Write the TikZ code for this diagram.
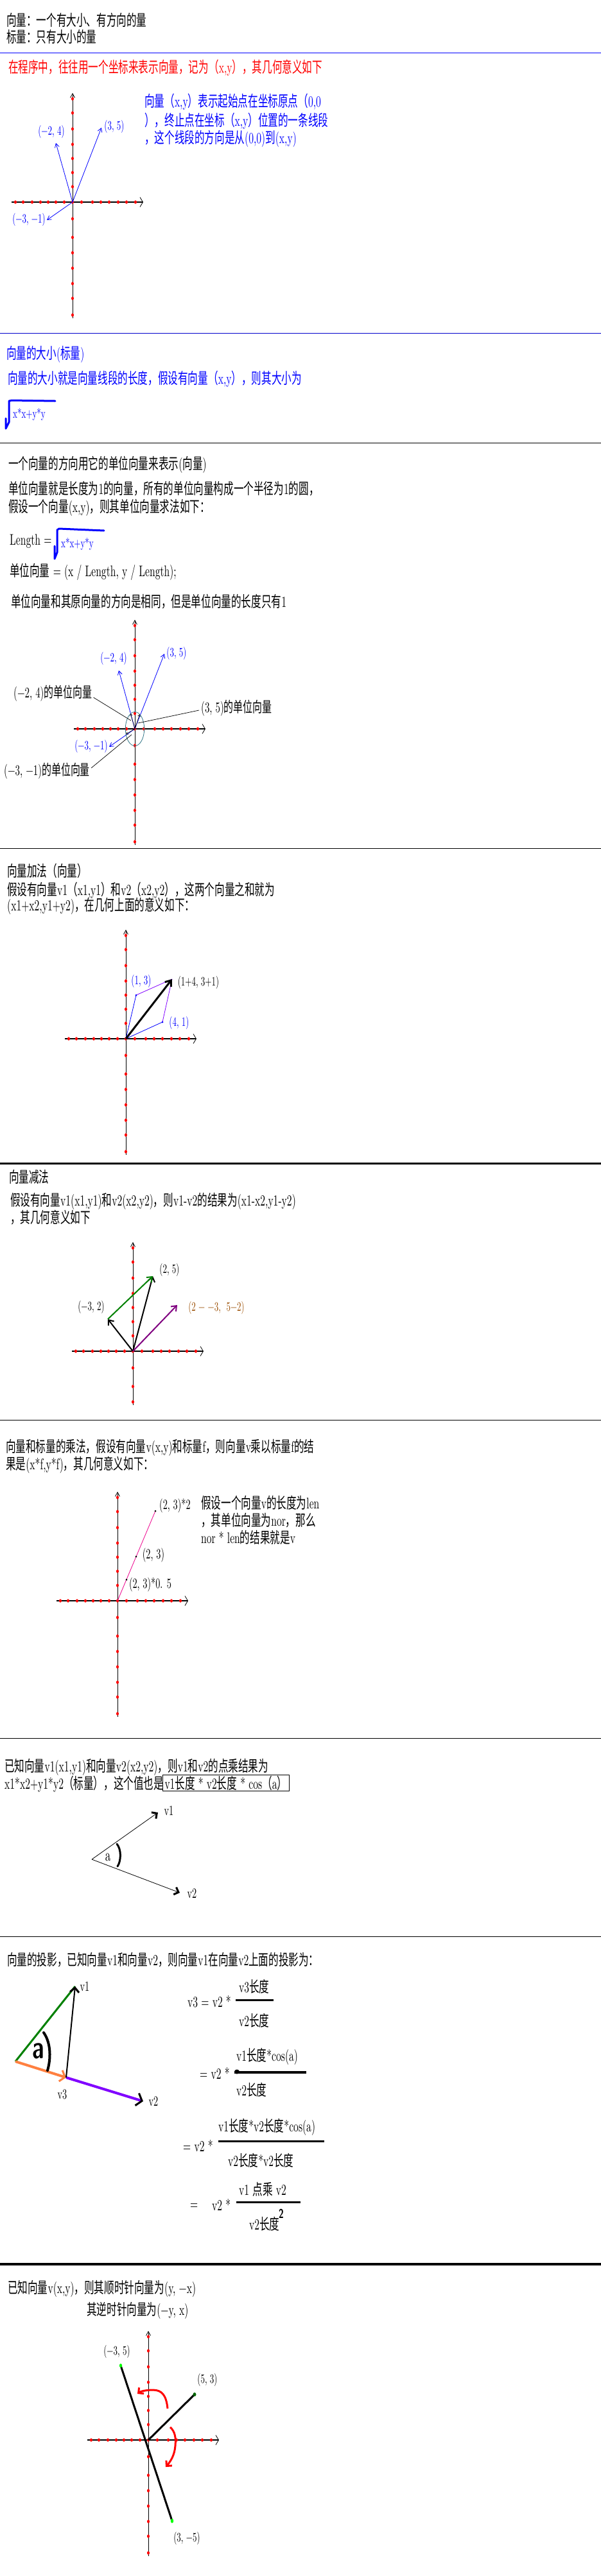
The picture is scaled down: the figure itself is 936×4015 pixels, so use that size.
\documentclass[tikz,border=0pt]{standalone}
\usepackage{fontspec}
\setmainfont{lmroman10-regular}[Extension=.otf, FakeStretch=0.65]
\newfontfamily\cjk{Noto Sans CJK SC}[FakeStretch=0.65]
\newfontfamily\heavyfont{lmsans10-bold}[Extension=.otf, FakeStretch=0.7]
\usetikzlibrary{arrows.meta}

\XeTeXinterchartokenstate=1
\ifdefined\newXeTeXintercharclass
  \newXeTeXintercharclass\cjkclass
\else
  \chardef\cjkclass=10
\fi
\newcommand{\cjkrange}[2]{%
  \count255=#1\relax
  \loop
    \XeTeXcharclass\count255=\cjkclass
  \ifnum\count255<#2\relax
    \advance\count255 by 1
  \repeat}
\cjkrange{"3000}{"303F}
\cjkrange{"4E00}{"9FFF}
\cjkrange{"FF00}{"FFEF}
\XeTeXinterchartoks 0 \cjkclass = {\cjk}
\XeTeXinterchartoks 4095 \cjkclass = {\cjk}
\XeTeXinterchartoks \cjkclass 0 = {\rmfamily}
\XeTeXinterchartoks \cjkclass 4095 = {\rmfamily}

\definecolor{rulebl}{RGB}{0,0,204}
\definecolor{ellteal}{RGB}{51,119,136}
\definecolor{sumviolet}{RGB}{128,0,255}
\definecolor{diffbrown}{RGB}{153,76,0}
\definecolor{diffpurple}{RGB}{128,0,128}
\definecolor{projorange}{RGB}{255,128,64}
\definecolor{darkgreen}{RGB}{0,128,0}

\newcommand{\drawaxes}[3]{%
  \draw[xaxis] (#1-95,#2) -- (#1+110,#2);
  \draw[yaxis] (#1,#2+#3) -- (#1,#2-170);
  \fill[reddot] (#1,#2) ellipse (2 and 2.7);
  \foreach \off in {13,26,38,50,63,77,89} {\fill[reddot] (#1-\off,#2) ellipse (2 and 2.7);}
  \foreach \off in {14,31,44,57,71,84,98} {\fill[reddot] (#1+\off,#2) ellipse (2 and 2.7);}
  \foreach \off in {24,46,68,90,114,139,161} {\fill[reddot] (#1,#2-\off) ellipse (2 and 2.7);}
  \foreach \off in {26,55,79,103,127,150,176} {\ifdim\off pt<#3pt \fill[reddot] (#1,#2+\off) ellipse (2 and 2.7);\fi}
}

\begin{document}
\begin{tikzpicture}[x=1pt, y=-1pt,
    txt/.style={anchor=base west, inner sep=0pt, font=\fontsize{24}{28}\selectfont},
    lbl/.style={inner sep=0pt, font=\fontsize{20}{24}\selectfont},
    cltxt/.style={anchor=base west, inner sep=0pt, font=\fontsize{23}{27}\selectfont},
    sepline/.style={line width=1pt},
    xaxis/.style={line width=1.5pt, -{Straight Barb[length=4.5pt, width=15pt, line width=0.8pt]}},
    yaxis/.style={line width=0.8pt, -{Straight Barb[length=6.5pt, width=7pt, line width=0.8pt]}},
    reddot/.style={fill=red},
    vecb/.style={draw=blue, line width=0.8pt, -{Straight Barb[length=6pt, width=7pt, line width=0.8pt]}},
    unitvec/.style={line width=0.6pt, -{Straight Barb[length=3pt, width=4pt, line width=0.6pt]}},
    leader/.style={line width=0.7pt},
    fatvec/.style={line width=2pt, -{Straight Barb[length=7pt, width=11pt, line width=2pt]}},
    thinvec/.style={line width=0.8pt, -{Straight Barb[length=6pt, width=12pt, line width=3pt]}},
    fracbar/.style={line width=3pt},
    radical/.style={draw=blue, line width=3pt, line join=round, line cap=round},
    redturn/.style={draw=red, line width=3pt, -{Straight Barb[length=6pt, width=12pt, line width=3pt]}}
  ]
  \useasboundingbox (0,0) rectangle (936,4015);

  \node[txt] (def1) at (10,40) {向量：一个有大小、有方向的量};
  \node[txt] (def2) at (10,66) {标量：只有大小的量};
  \draw[sepline, blue] (0,82) -- (936,82);
  \node[txt, red] (coord) at (13,113) {在程序中，往往用一个坐标来表示向量，记为（x,y），其几何意义如下};
  \drawaxes{113}{315}{181}
  \coordinate (o1) at (113,315);
  \coordinate (a35) at (158,199);
  \coordinate (a24) at (87,223);
  \coordinate (a31) at (73,343);
  \draw[vecb] (o1) -- (a35);
  \draw[vecb] (o1) -- (a24);
  \draw[vecb] (o1) -- (a31);
  \node[lbl, blue] (l35) at (178,197) {(3, 5)};
  \node[lbl, blue] (l24) at (80,205) {(−2, 4)};
  \node[lbl, blue] (l31) at (45,342) {(−3, −1)};
  \node[txt, blue] (meaning1) at (225,166) {向量（x,y）表示起始点在坐标原点（0,0};
  \node[txt, blue] (meaning2) at (225,196) {），终止点在坐标（x,y）位置的一条线段};
  \node[txt, blue] (meaning3) at (225,223) {，这个线段的方向是从(0,0)到(x,y)};

  \draw[sepline, rulebl] (0,519) -- (936,519);
  \node[txt, blue] (mag1) at (10,559) {向量的大小(标量)};
  \node[txt, blue] (mag2) at (12,598) {向量的大小就是向量线段的长度，假设有向量（x,y），则其大小为};
  \draw[radical] (9,652) -- (9,668) -- (14,658) -- (14,625) -- (18,624) -- (86,625);
  \node[lbl, blue, anchor=base west] (magsq) at (20,651) {x*x+y*y};

  \draw[sepline] (0,690) -- (936,690);
  \node[txt] (dir1) at (13,731) {一个向量的方向用它的单位向量来表示(向量)};
  \node[txt] (dir2) at (13,770) {单位向量就是长度为1的向量，所有的单位向量构成一个半径为1的圆，};
  \node[txt] (dir3) at (13,798) {假设一个向量(x,y)，则其单位向量求法如下：};
  \node[txt] (len) at (15,849) {Length =};
  \draw[radical] (85,851) -- (85,871) -- (89,861) -- (89,826) -- (92,824) -- (162,827);
  \node[lbl, blue, anchor=base west] (lensq) at (95,853) {x*x+y*y};
  \node[txt] (unit) at (15,898) {单位向量 = (x / Length, y / Length);};
  \node[txt] (same) at (17,946) {单位向量和其原向量的方向是相同，但是单位向量的长度只有1};
  \drawaxes{210}{1136}{181}
  \coordinate (o3) at (210,1136);
  \coordinate (b24) at (185,1045);
  \coordinate (b35) at (256,1019);
  \coordinate (b31) at (170,1164);
  \draw[vecb] (o3) -- (b24);
  \draw[vecb] (o3) -- (b35);
  \draw[vecb] (o3) -- (b31);
  \draw[ellteal, line width=0.8pt] (o3) ellipse (14.7 and 26.5);
  \coordinate (u24) at (203.4,1112.3);
  \coordinate (u35) at (217.6,1113.3);
  \coordinate (u31) at (196.1,1144.4);
  \draw[unitvec] (o3) -- (u24);
  \draw[unitvec] (o3) -- (u35);
  \draw[unitvec] (o3) -- (u31);
  \node[lbl, blue] (m24) at (177,1026) {(−2, 4)};
  \node[lbl, blue] (m35) at (275,1018) {(3, 5)};
  \node[lbl, blue] (m31) at (142,1163) {(−3, −1)};
  \node[cltxt] (c24) at (21,1087) {(−2, 4)的单位向量};
  \node[cltxt] (c35) at (313,1110) {(3, 5)的单位向量};
  \node[cltxt] (c31) at (6,1208) {(−3, −1)的单位向量};
  \coordinate (e24) at (204,1123);
  \coordinate (e35) at (215,1127);
  \coordinate (e31) at (205,1145);
  \draw[leader] (c24.base east) ++(2,0) -- (e24);
  \draw[leader] ([yshift=3pt]c35.base west) ++(-3,0) -- (e35);
  \draw[leader] ([yshift=11pt]c31.base east) ++(2,0) -- (e31);

  \draw[sepline] (0,1322) -- (936,1322);
  \node[txt] (add1) at (11,1366) {向量加法（向量）};
  \node[txt] (add2) at (11,1395) {假设有向量v1（x1,y1）和v2（x2,y2），这两个向量之和就为};
  \node[txt] (add3) at (11,1419) {(x1+x2,y1+y2)，在几何上面的意义如下：};
  \drawaxes{196}{1619}{181}
  \coordinate (o4) at (196,1619);
  \coordinate (p13) at (212,1551);
  \coordinate (p41) at (253,1593);
  \coordinate (psum) at (268,1526);
  \draw[blue, line width=0.8pt] (o4) -- (p13);
  \draw[blue, line width=0.8pt] (o4) -- (p41);
  \draw[sumviolet, line width=0.8pt] (p13) -- (psum);
  \draw[sumviolet, line width=0.8pt] (p41) -- (psum);
  \draw[line width=3pt, -{Straight Barb[length=8pt, width=12pt, line width=3pt]}] (o4) -- (psum);
  \fill[blue] (p13) circle (1.5);
  \fill[blue] (p41) circle (1.5);
  \node[lbl, blue] (n13) at (220,1529) {(1, 3)};
  \node[lbl] (nsum) at (309,1531) {(1+4, 3+1)};
  \node[lbl, blue] (n41) at (279,1594) {(4, 1)};

  \draw[line width=3pt] (0,1813) -- (936,1813);
  \node[txt] (sub1) at (14,1843) {向量减法};
  \node[txt] (sub2) at (16,1879) {假设有向量v1(x1,y1)和v2(x2,y2)，则v1-v2的结果为(x1-x2,y1-y2)};
  \node[txt] (sub3) at (16,1906) {，其几何意义如下};
  \drawaxes{207}{2106}{84}
  \coordinate (o5) at (207,2106);
  \coordinate (q25) at (238,1989);
  \coordinate (qm32) at (168,2056);
  \coordinate (qd) at (276,2034);
  \draw[fatvec] (o5) -- (q25);
  \draw[fatvec] (o5) -- (qm32);
  \draw[fatvec, darkgreen] (qm32) -- (q25);
  \draw[fatvec, diffpurple] (o5) -- (qd);
  \node[lbl] (k25) at (264,1979) {(2, 5)};
  \node[lbl] (km32) at (142,2037) {(−3, 2)};
  \node[lbl, diffbrown] (kd) at (337,2038) {(2 − −3,~~5−2)};

  \draw[sepline] (0,2213) -- (936,2213);
  \node[txt] (mul1) at (9,2263) {向量和标量的乘法，假设有向量v(x,y)和标量f，则向量v乘以标量f的结};
  \node[txt] (mul2) at (9,2290) {果是(x*f,y*f)，其几何意义如下：};
  \drawaxes{183}{2495}{181}
  \coordinate (o6) at (183,2495);
  \coordinate (r2) at (242,2355);
  \coordinate (r1) at (212,2426);
  \coordinate (rh) at (197,2462);
  \draw[magenta, line width=0.8pt] (o6) -- (r2);
  \fill (r2) circle (1.5);
  \fill (r1) circle (1.5);
  \fill (rh) circle (1.5);
  \node[lbl, anchor=west, font=\fontsize{22}{26}\selectfont] (lr2) at (248,2347) {(2, 3)*2};
  \node[lbl, font=\fontsize{22}{26}\selectfont] (lr1) at (239,2424) {(2, 3)};
  \node[lbl, font=\fontsize{22}{26}\selectfont] (lrh) at (234,2470) {(2, 3)*0. 5};
  \node[txt] (nor1) at (313,2351) {假设一个向量v的长度为len};
  \node[txt] (nor2) at (313,2378) {，其单位向量为nor，那么};
  \node[txt] (nor3) at (313,2405) {nor * len的结果就是v};

  \draw[sepline] (0,2709) -- (936,2709);
  \node[txt] (dot1) at (7,2761) {已知向量v1(x1,y1)和向量v2(x2,y2)，则v1和v2的点乘结果为};
  \node[txt] (dot2) at (7,2788) {x1*x2+y1*y2（标量），这个值也是};
  \node[txt, draw, line width=1pt, inner xsep=3pt, inner ysep=1pt] (dotbox) at (253,2788) {v1长度 * v2长度 * cos（a）};
  \coordinate (ang) at (143,2898);
  \coordinate (av1) at (246,2825);
  \coordinate (av2) at (280,2950);
  \draw[thinvec] (ang) -- (av1);
  \draw[thinvec] (ang) -- (av2);
  \draw[line width=3pt, line cap=round] (182,2874) .. controls (189,2882) and (189,2900) .. (183,2909);
  \node[lbl, font=\fontsize{26}{30}\selectfont] (anga) at (168,2895) {a};
  \node[lbl, font=\fontsize{22}{26}\selectfont] (angv1) at (263,2822) {v1};
  \node[lbl, font=\fontsize{22}{26}\selectfont] (angv2) at (299,2951) {v2};

  \draw[sepline] (0,3018) -- (936,3018);
  \node[txt] (proj) at (11,3063) {向量的投影，已知向量v1和向量v2，则向量v1在向量v2上面的投影为：};
  \coordinate (pa) at (24,3213);
  \coordinate (pv1) at (117,3096);
  \coordinate (pv3) at (103,3238);
  \coordinate (pv2) at (223,3275);
  \draw[sumviolet, line width=0.8pt] (pa) -- (pv3);
  \draw[sumviolet, line width=4pt, -{Straight Barb[length=8pt, width=20pt, line width=3pt, color=black]}] (pv3) -- (pv2);
  \draw[darkgreen, line width=3pt] (pa) -- (pv1);
  \draw[projorange, line width=4pt, -{Straight Barb[length=7pt, width=18pt, line width=3pt]}] (pa) -- (pv3);
  \draw[line width=2pt, -{Straight Barb[length=7pt, width=14pt, line width=3pt]}] (pv3) -- (pv1);
  \node[inner sep=0pt, font=\heavyfont\fontsize{50}{50}\selectfont] (pang) at (60,3197) {a};
  \draw[line width=4pt, line cap=round] (68,3168) .. controls (80,3185) and (79,3210) .. (74,3227);
  \node[lbl, font=\fontsize{22}{26}\selectfont] (pl1) at (132,3096) {v1};
  \node[lbl, font=\fontsize{22}{26}\selectfont] (pl3) at (97,3264) {v3};
  \node[lbl, font=\fontsize{22}{26}\selectfont] (pl2) at (239,3275) {v2};

  \node[txt] (f1) at (292,3128) {v3 = v2 *};
  \draw[fracbar] (367,3117) -- (426,3117);
  \node[txt] (f1n) at (372,3105) {v3长度};
  \node[txt] (f1d) at (372,3158) {v2长度};
  \node[txt] (f2) at (311,3240) {= v2 *};
  \draw[fracbar, line width=4pt] (365,3230) -- (477,3230);
  \fill (369,3229) ellipse (4 and 3.5);
  \node[txt] (f2n) at (368,3212) {v1长度*cos(a)};
  \node[txt] (f2d) at (368,3266) {v2长度};
  \node[txt] (f3) at (285,3353) {= v2 *};
  \draw[fracbar] (340,3337) -- (505,3337);
  \node[txt] (f3n) at (340,3322) {v1长度*v2长度*cos(a)};
  \node[txt] (f3d) at (355,3376) {v2长度*v2长度};
  \node[txt] (f4eq) at (296,3443) {=};
  \node[txt] (f4) at (330,3445) {v2 *};
  \draw[fracbar] (368,3432) -- (468,3432);
  \node[txt] (f4n) at (372,3421) {v1 点乘 v2};
  \node[txt] (f4d) at (388,3475) {v2长度};
  \node[inner sep=0pt, font=\heavyfont\fontsize{20}{20}\selectfont] (f4sq) at (438,3450) {2};

  \draw[line width=3.5pt] (0,3529) -- (936,3529);
  \node[txt] (rot1) at (12,3574) {已知向量v(x,y)，则其顺时针向量为(y, −x)};
  \node[txt] (rot2) at (135,3608) {其逆时针向量为(−y, x)};
  \drawaxes{231}{3803}{181}
  \coordinate (o9) at (231,3803);
  \coordinate (s53) at (303,3732);
  \coordinate (sm35) at (188,3687);
  \coordinate (s3m5) at (268,3929);
  \draw[line width=3pt] (o9) -- (s53);
  \draw[line width=3pt] (sm35) -- (s3m5);
  \fill[green!40!black] (s53) ellipse (2.5 and 3);
  \fill[green] (sm35) ellipse (2.2 and 3);
  \fill[green] (s3m5) ellipse (2.2 and 3.5);
  \draw[redturn] (261,3754) .. controls (259,3733) and (252,3725) .. (238,3725) .. controls (228,3725) and (219,3727) .. (214,3731);
  \draw[redturn] (265,3783) .. controls (273,3790) and (274,3800) .. (273,3812) .. controls (272,3826) and (266,3836) .. (258,3845);
  \node[lbl] (t35) at (182,3665) {(−3, 5)};
  \node[lbl] (t53) at (323,3709) {(5, 3)};
  \node[lbl] (t3m5) at (291,3956) {(3, −5)};
\end{tikzpicture}
\end{document}
